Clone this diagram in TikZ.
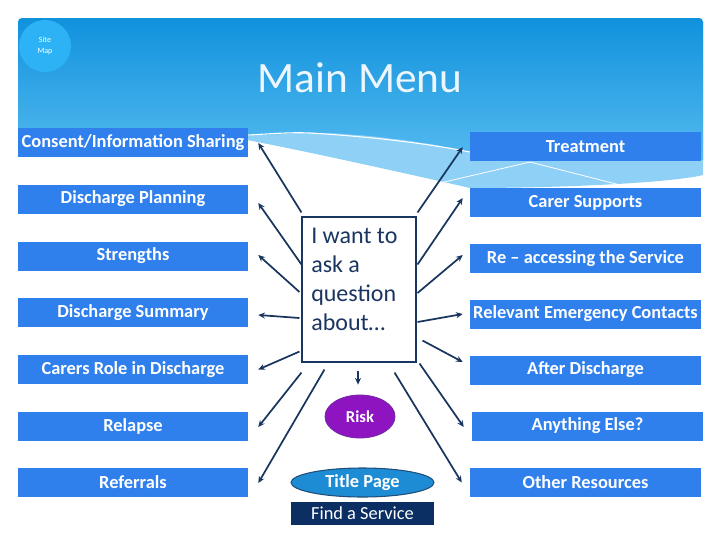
\documentclass[tikz,border=0pt]{standalone}
\usepackage{fontspec}
\setmainfont{Carlito}
\usetikzlibrary{arrows.meta,shapes.geometric,calc}
\definecolor{boxblue}{RGB}{47,128,237}
\definecolor{navy}{RGB}{26,54,96}
\definecolor{hdtop}{RGB}{17,146,221}
\definecolor{hdbot}{RGB}{84,186,239}
\definecolor{band}{RGB}{142,208,246}
\definecolor{sitec}{RGB}{44,178,245}
\definecolor{riskc}{RGB}{142,20,194}
\definecolor{riskb}{RGB}{112,40,160}
\definecolor{titlec}{RGB}{30,140,212}
\definecolor{titleb}{RGB}{31,78,121}
\definecolor{findc}{RGB}{12,47,99}
\tikzset{
  menubox/.style={rectangle, fill=boxblue, text=white, inner sep=0pt,
    minimum width=172.5pt, minimum height=21.75pt,
    font=\fontsize{13.8}{16}\selectfont\bfseries},
  arr/.style={draw=navy, line width=1.3pt, -{Stealth[length=5pt,width=4.5pt]}},
}
\begin{document}
\begin{tikzpicture}[x=0.75pt,y=-0.75pt]
\useasboundingbox (0,0) rectangle (720,540);
% header band
\fill[band] (18,22) arc[start angle=180,end angle=270,radius=4] -- (699,18)
  arc[start angle=270,end angle=360,radius=4] -- (703,175)
  .. controls (670,183) and (560,188) .. (470,188)
  .. controls (400,172) and (300,150) .. (247,140) -- (18,135) -- cycle;
% header main area with stepped gradient
\begin{scope}
\clip (18,22) arc[start angle=180,end angle=270,radius=4] -- (699,18)
  arc[start angle=270,end angle=360,radius=4] -- (703,160)
  -- (470,152) .. controls (420,140) and (340,131) .. (300,133)
  .. controls (280,134) and (260,135) .. (247,135) -- (18,135) -- cycle;
\foreach \i in {0,...,35}{
  \pgfmathsetmacro{\pc}{100-\i*100/35}
  \fill[hdtop!\pc!hdbot] (16,{18+\i*4}) rectangle (705,{18+\i*4+4.6});
}
\end{scope}
\draw[white, line width=0.8pt] (247,135) .. controls (270,134) and (290,132) .. (310,133)
  .. controls (360,136) and (420,142) .. (470,152);
\draw[white, line width=0.6pt] (440,183) -- (530,162) -- (628,187);
% site map
\node[circle, fill=sitec, minimum size=39pt, inner sep=0pt, text=white, align=center,
  font=\fontsize{6}{8}\selectfont] (site) at (45,46) {Site\\Map};
\node[text=white!92!hdtop, font=\fontsize{32.5}{36}\selectfont, anchor=base] (title) at (360,92) {Main Menu};
% left menu
\node[menubox] (L1) at (133,142.5) {Consent/Information Sharing};
\node[menubox] (L2) at (133,199) {Discharge Planning};
\node[menubox] (L3) at (133,256) {Strengths};
\node[menubox] (L4) at (133,312.5) {Discharge Summary};
\node[menubox] (L5) at (133,369.5) {Carers Role in Discharge};
\node[menubox] (L6) at (133,426) {Relapse};
\node[menubox] (L7) at (133,482.5) {Referrals};
% right menu
\node[menubox, minimum width=173.25pt] (R1) at (585.5,146.5) {Treatment};
\node[menubox, minimum width=173.25pt] (R2) at (585.5,202.5) {Carer Supports};
\node[menubox, minimum width=173.25pt] (R3) at (585.5,258.5) {Re – accessing the Service};
\node[menubox, minimum width=173.25pt] (R4) at (585.5,314) {Relevant Emergency Contacts};
\node[menubox, minimum width=173.25pt] (R5) at (585.5,370) {After Discharge};
\node[menubox, minimum width=173.25pt] (R6) at (587.5,426) {Anything Else?};
\node[menubox, minimum width=173.25pt] (R7) at (585.5,482.5) {Other Resources};
% centre
\node[rectangle, draw=navy, line width=0.8pt, fill=white, minimum width=85.5pt, minimum height=108.75pt, inner sep=0pt] (q) at (359,289.5) {};
\node[anchor=north west, inner sep=0pt, align=left, text=navy, font=\fontsize{18}{21.75}\selectfont] (qt) at (311,228) {I want to\\ask a\\question\\about…};
\node[ellipse, fill=riskc, draw=riskb, line width=0.6pt, minimum width=52.5pt, minimum height=32.25pt, inner sep=0pt,
  text=white, font=\fontsize{12.5}{14}\selectfont\bfseries] (risk) at (360,416.5) {Risk};
\node[ellipse, fill=titlec, draw=titleb, line width=0.8pt, minimum width=107.25pt, minimum height=21.75pt, inner sep=0pt,
  text=white, font=\fontsize{13.8}{16}\selectfont\bfseries] (tp) at (362.5,482.5) {Title Page};
\node[rectangle, fill=findc, minimum width=107.25pt, minimum height=17.25pt, inner sep=0pt,
  text=white, font=\fontsize{13.8}{16}\selectfont] (find) at (362.5,513.5) {Find a Service};
% connectors
\draw[arr] ($(q.north west)+(0,-4)$) -- ($(L1.east)+(10,0.5)$);
\draw[arr] ($(q.north west)+(0,48)$) -- ($(L2.east)+(10,4)$);
\draw[arr] ($(q.west)+(-2,2.5)$) -- ($(L3.east)+(10,-1)$);
\draw[arr] ($(q.west)+(-2,28.5)$) -- ($(L4.east)+(10,2.5)$);
\draw[arr] ($(q.south west)+(-2,-11)$) -- ($(L5.east)+(10,0)$);
\draw[arr] ($(q.south west)+(0,10)$) -- ($(L6.east)+(10,1)$);
\draw[arr] ($(q.south west)+(23,7)$) -- ($(L7.east)+(10,0.5)$);
\draw[arr] ($(q.south)+(-1,8)$) -- ($(risk.north)+(-2,-10)$);
\draw[arr] ($(q.south east)+(-22,10)$) -- ($(R7.west)+(-8,0)$);
\draw[arr] ($(q.south east)+(3,1)$) -- ($(R6.west)+(-8,1)$);
\draw[arr] ($(q.south east)+(6,-22)$) -- ($(R5.west)+(-7,-8)$);
\draw[arr] ($(q.east)+(1,32.5)$) -- ($(R4.west)+(-7,0)$);
\draw[arr] ($(q.east)+(1,3.5)$) -- ($(R3.west)+(-7,-3.5)$);
\draw[arr] ($(q.north east)+(1,48)$) -- ($(R2.west)+(-7,-4.5)$);
\draw[arr] ($(q.north east)+(1,-4)$) -- ($(R1.west)+(-7,0.5)$);
\end{tikzpicture}
\end{document}
